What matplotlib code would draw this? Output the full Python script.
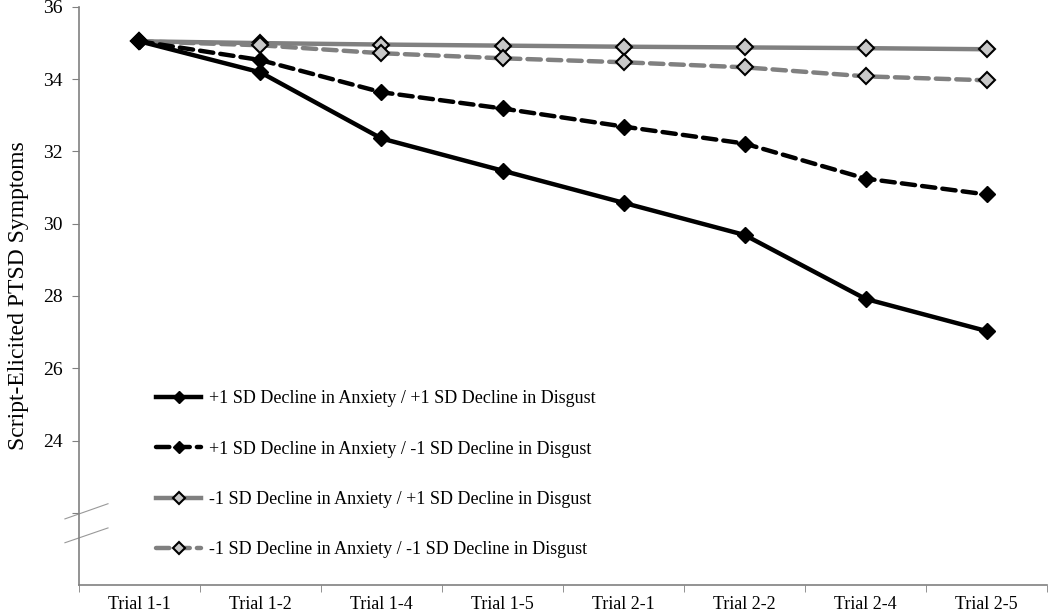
import matplotlib
matplotlib.use("Agg")
import matplotlib.pyplot as plt

plt.rcParams['font.family'] = ['Liberation Serif', 'DejaVu Serif']

# categories and series values
trials = ["Trial 1-1", "Trial 1-2", "Trial 1-4", "Trial 1-5",
          "Trial 2-1", "Trial 2-2", "Trial 2-4", "Trial 2-5"]
hi_anx_hi_dis = [35.05, 34.19, 32.36, 31.47, 30.58, 29.69, 27.92, 27.03]
hi_anx_lo_dis = [35.05, 34.53, 33.64, 33.19, 32.69, 32.22, 31.25, 30.81]
lo_anx_hi_dis = [35.05, 35.00, 34.96, 34.93, 34.90, 34.88, 34.86, 34.83]
lo_anx_lo_dis = [35.05, 34.94, 34.72, 34.58, 34.47, 34.33, 34.08, 33.97]
labels = ["+1 SD Decline in Anxiety / +1 SD Decline in Disgust",
          "+1 SD Decline in Anxiety / -1 SD Decline in Disgust",
          "-1 SD Decline in Anxiety / +1 SD Decline in Disgust",
          "-1 SD Decline in Anxiety / -1 SD Decline in Disgust"]
y_ticks = [22, 24, 26, 28, 30, 32, 34, 36]
y_ticklabels = ["", "24", "26", "28", "30", "32", "34", "36"]

fig = plt.figure(figsize=(10.5, 6.12), dpi=100)
ax = fig.add_axes([0.0752, 0.0441, 0.922, 0.9445])

x = list(range(len(trials)))
grey = "#808080"
light = "#c8c8c8"
dash = (3, 1.6)

ax.plot(x, hi_anx_hi_dis, color="black", lw=3.2, marker="D", ms=8.5,
        mfc="black", mec="black", label=labels[0], zorder=4)
ax.plot(x, hi_anx_lo_dis, color="black", lw=3.2, marker="D", ms=8.5,
        mfc="black", mec="black", dashes=dash, dash_capstyle="round",
        label=labels[1], zorder=4)
ax.plot(x, lo_anx_hi_dis, color=grey, lw=3.2, marker="D", ms=8.5,
        mfc=light, mec="black", mew=1.5, label=labels[2], zorder=3)
ax.plot(x, lo_anx_lo_dis, color=grey, lw=3.2, marker="D", ms=8.5,
        mfc=light, mec="black", mew=1.5, dashes=dash, dash_capstyle="round",
        label=labels[3], zorder=3)

ax.set_xlim(-0.5, len(trials) - 0.5)
ax.set_ylim(20, 36)
ax.set_xticks(x)
ax.set_xticklabels(trials, fontsize=13)
ax.set_xticks([i - 0.5 for i in range(len(trials) + 1)], minor=True)
ax.tick_params(axis="x", which="major", length=0, pad=8)
ax.tick_params(axis="x", which="minor", length=5, color=grey, direction="out")
ax.set_yticks(y_ticks)
ax.set_yticklabels(y_ticklabels, fontsize=14)
ax.tick_params(axis="y", length=5, color=grey, direction="out", pad=7)

for s in ["top", "right"]:
    ax.spines[s].set_visible(False)
for s in ["left", "bottom"]:
    ax.spines[s].set_color(grey)
    ax.spines[s].set_linewidth(1.2)

# axis break marks
for y0, y1 in [(21.83, 22.25), (21.17, 21.58)]:
    ax.plot([-0.616, -0.26], [y0, y1], color="#999999", lw=0.8, clip_on=False)

ax.set_ylabel("Script-Elicited PTSD Symptoms", fontsize=17, labelpad=10)

ax.legend(loc="upper left", bbox_to_anchor=(0.063, 0.365), frameon=False,
          fontsize=13, labelspacing=1.85, handlelength=2.5, handletextpad=0.45,
          markerscale=0.75)

fig.savefig("out.png", dpi=100)
